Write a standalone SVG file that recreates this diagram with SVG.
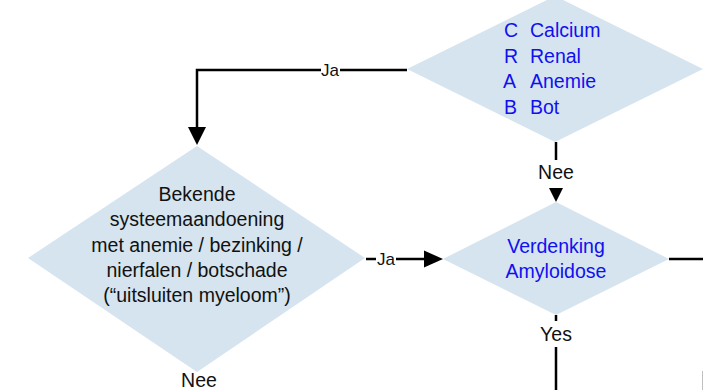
<svg xmlns="http://www.w3.org/2000/svg" width="703" height="390" viewBox="0 0 703 390">
<style>
.d{fill:#d5e4ee;stroke:none}
.t{font-family:"Liberation Sans",Arial,sans-serif;font-size:19.5px;fill:#111;text-anchor:middle}
.b{fill:#1010f0}
.l{font-family:"Liberation Sans",Arial,sans-serif;font-size:17px;fill:#111;text-anchor:middle}
.c{fill:none;stroke:#000;stroke-width:2.5}
.a{fill:#000}
</style>
<rect width="703" height="390" fill="#fff"/>
<g id="crab">
<polygon class="d" points="555,-4 703,69 555,142 407,69"/>
<g class="t b" style="text-anchor:start">
<text x="504" y="37">C</text><text x="530" y="37">Calcium</text>
<text x="504" y="63">R</text><text x="530" y="63">Renal</text>
<text x="503" y="88">A</text><text x="530" y="88">Anemie</text>
<text x="504" y="114">B</text><text x="530" y="114">Bot</text>
</g>
</g>
<g id="systeem">
<polygon class="d" points="197,146 365,258 197,372 28,258"/>
<text class="t" x="197" y="201">Bekende</text>
<text class="t" x="197" y="226">systeemaandoening</text>
<text class="t" x="197" y="251.5">met anemie / bezinking /</text>
<text class="t" x="197" y="277">nierfalen / botschade</text>
<text class="t" x="197" y="302">(“uitsluiten myeloom”)</text>
</g>
<g id="amyloidose">
<polygon class="d" points="556,202 669,259 556,315 443,259"/>
<text class="t b" x="556" y="253">Verdenking</text>
<text class="t b" x="556" y="278">Amyloidose</text>
</g>
<g id="connectors">
<path class="c" d="M407,70 H340 M321,70 H197 V128"/>
<polygon class="a" points="188,127 206,127 197,145"/>
<text class="l" x="330" y="76">Ja</text>
<path class="c" d="M556,142 V160"/>
<text class="t" x="556" y="179">Nee</text>
<polygon class="a" points="549,188 563,188 556,202"/>
<path class="c" d="M366,259 H376 M396,259 H425"/>
<polygon class="a" points="424,250.5 424,267.5 443,259"/>
<text class="l" x="386" y="265">Ja</text>
<path class="c" d="M556,315 V321 M556,347 V390"/>
<text class="t" x="556" y="341">Yes</text>
<path class="c" d="M669,259 H703"/>
<text class="t" x="199" y="387">Nee</text>
<line x1="702.5" y1="371" x2="702.5" y2="390" stroke="#c0c0c0" stroke-width="1"/>
</g>
</svg>
